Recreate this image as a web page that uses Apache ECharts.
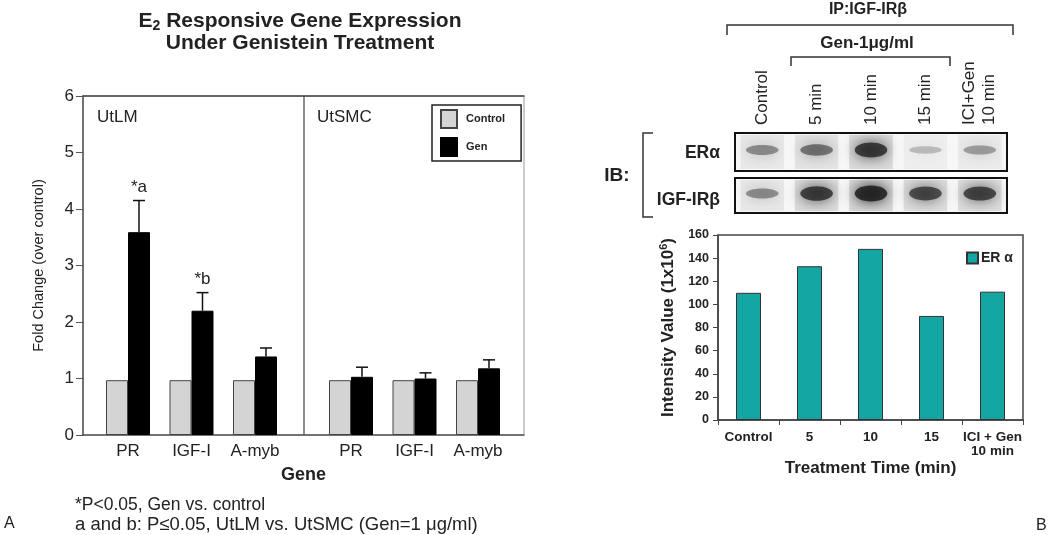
<!DOCTYPE html>
<html><head><meta charset="utf-8">
<script src="https://cdn.jsdelivr.net/npm/echarts@6/dist/echarts.min.js"></script>
<style>html,body{margin:0;padding:0;background:#fff}#c{width:1050px;height:535px}</style>
</head><body><div id="c"></div>
<script>
// ---- Panel A data ----
var genes = ['PR', 'IGF-I', 'A-myb'];
var ctrlLM = [0.97, 0.97, 0.97];
var genLM = [3.59, 2.2, 1.39];
var seLM = [0.56, 0.32, 0.15];
var noteLM = ['*a', '*b', ''];
var ctrlSMC = [0.97, 0.97, 0.97];
var genSMC = [1.03, 1.0, 1.18];
var seSMC = [0.17, 0.1, 0.15];
var noteSMC = ['', '', ''];
var foldMin = 0, foldMax = 6, foldStep = 1;

// ---- Panel B data ----
var timeCats = ['Control', '5', '10', '15', 'ICI + Gen\n10 min'];
var erIntensity = [110, 133, 148, 90, 111];
var intMin = 0, intMax = 160, intStep = 20;
var laneLabels = ['Control', '5 min', '10 min', '15 min', 'ICI+Gen\n10 min'];
var erBand = [0.5, 0.62, 0.9, 0.28, 0.42];
var igfBand = [0.5, 0.88, 1.0, 0.82, 0.85];

var FF = '"Liberation Sans", Arial, Helvetica, sans-serif';
var TX = '#222';

function makeErr(notes) {
  return function (params, api) {
    var i = api.value(0), m = api.value(1), se = api.value(2);
    var base = api.coord([i, m]);
    var top = api.coord([i, m + se]);
    var x = top[0] + 11;
    var ch = [
      {type: 'line', shape: {x1: x, y1: base[1], x2: x, y2: top[1]}, style: {stroke: '#111', lineWidth: 1.5}},
      {type: 'line', shape: {x1: x - 6, y1: top[1], x2: x + 6, y2: top[1]}, style: {stroke: '#111', lineWidth: 1.5}}
    ];
    var n = notes[params.dataIndex];
    if (n) {
      ch.push({type: 'text', x: x, y: top[1] - 5, style: {text: n, fontSize: 17, fontFamily: FF, fill: TX, align: 'center', verticalAlign: 'bottom'}});
    }
    return {type: 'group', children: ch};
  };
}

function band(params, api) {
  var v = api.value(1);
  var c = api.coord([api.value(0), 0.5]);
  var w = api.size([1, 0])[0];
  var cs = params.coordSys;
  return {type: 'group', children: [
    {type: 'rect', shape: {x: c[0] - w * 0.4, y: cs.y + 2, width: w * 0.8, height: cs.height - 4},
      style: {fill: 'rgba(0,0,0,' + (0.12 * v).toFixed(3) + ')', shadowBlur: 8, shadowColor: 'rgba(0,0,0,' + (0.15 * v).toFixed(3) + ')'}},
    {type: 'ellipse', shape: {cx: c[0], cy: c[1] - 2, rx: w * 0.3, ry: 2 + 6 * v},
      style: {fill: 'rgba(20,20,20,' + (0.8 * v).toFixed(3) + ')', shadowBlur: 14, shadowColor: 'rgba(0,0,0,' + v.toFixed(3) + ')'}}
  ]};
}

var hiddenY = function (g) { return {gridIndex: g, type: 'value', min: foldMin, max: foldMax, show: false}; };

var option = {
  backgroundColor: '#fff',
  animation: false,
  textStyle: {fontFamily: FF},
  grid: [
    {left: 83, top: 96, width: 441, height: 339, show: true, borderColor: '#999', borderWidth: 1},
    {left: 96.25, top: 96, width: 190.5, height: 339},
    {left: 319.25, top: 96, width: 190.5, height: 339},
    {left: 718, top: 235, width: 305, height: 185, show: true, borderColor: '#444', borderWidth: 1.5},
    {left: 735, top: 133, width: 272, height: 38, show: true, borderColor: '#111', borderWidth: 2, backgroundColor: '#f7f7f7'},
    {left: 735, top: 178, width: 272, height: 35, show: true, borderColor: '#111', borderWidth: 2, backgroundColor: '#f7f7f7'}
  ],
  xAxis: [
    {gridIndex: 0, type: 'value', min: 0, max: 1, axisLine: {show: true, lineStyle: {color: '#555', width: 1.5}},
      axisTick: {show: false}, axisLabel: {show: false}, splitLine: {show: false},
      name: 'Gene', nameLocation: 'middle', nameGap: 31, nameTextStyle: {fontSize: 18, fontWeight: 'bold', color: TX}},
    {gridIndex: 1, type: 'category', data: genes, axisLine: {show: false}, axisTick: {show: false},
      axisLabel: {interval: 0, fontSize: 17, color: TX, margin: 8}},
    {gridIndex: 2, type: 'category', data: genes, axisLine: {show: false}, axisTick: {show: false},
      axisLabel: {interval: 0, fontSize: 17, color: TX, margin: 8}},
    {gridIndex: 3, type: 'category', data: timeCats, axisLine: {lineStyle: {color: '#444', width: 1.5}},
      axisTick: {show: true, length: 5, interval: 0, lineStyle: {color: '#444'}},
      axisLabel: {interval: 0, fontSize: 13.5, fontWeight: 'bold', color: TX, margin: 10, lineHeight: 14},
      name: 'Treatment Time (min)', nameLocation: 'middle', nameGap: 40, nameTextStyle: {fontSize: 17, fontWeight: 'bold', color: TX}},
    {gridIndex: 4, type: 'category', data: laneLabels, position: 'top', axisLine: {show: false}, axisTick: {show: false},
      axisLabel: {interval: 0, rotate: 90, fontSize: 17, color: TX, margin: 8, lineHeight: 20}},
    {gridIndex: 5, type: 'category', data: laneLabels, show: false},
    {gridIndex: 0, type: 'value', min: 0, max: 1, position: 'top', axisLine: {show: true, lineStyle: {color: '#444', width: 1.5}},
      axisTick: {show: false}, axisLabel: {show: false}, splitLine: {show: false}}
  ],
  yAxis: [
    {gridIndex: 0, type: 'value', min: foldMin, max: foldMax, interval: foldStep,
      axisLine: {show: true, lineStyle: {color: '#555', width: 1.5}},
      axisTick: {show: true, length: 7, lineStyle: {color: '#555'}},
      axisLabel: {fontSize: 17, color: TX, margin: 9}, splitLine: {show: false},
      name: 'Fold Change (over control)', nameLocation: 'middle', nameGap: 37, nameTextStyle: {fontSize: 14.5, color: TX}},
    hiddenY(1), hiddenY(2),
    {gridIndex: 3, type: 'value', min: intMin, max: intMax, interval: intStep,
      axisLine: {show: true, lineStyle: {color: '#444', width: 1.5}},
      axisTick: {show: true, length: 5, lineStyle: {color: '#444'}},
      axisLabel: {fontSize: 12.5, fontWeight: 'bold', color: TX, margin: 9}, splitLine: {show: false},
      name: 'Intensity Value (1x10{sup|6})', nameLocation: 'middle', nameGap: 40,
      nameTextStyle: {fontSize: 17, fontWeight: 'bold', color: TX, rich: {sup: {fontSize: 11, fontWeight: 'bold', color: TX, padding: [0, 0, 9, 0]}}}},
    {gridIndex: 4, type: 'value', min: 0, max: 1, show: false},
    {gridIndex: 5, type: 'value', min: 0, max: 1, show: false}
  ],
  legend: [
    {data: [{name: 'Control', icon: 'rect'}, {name: 'Gen', icon: 'rect'}], orient: 'vertical', left: 432, top: 105, itemWidth: 16, itemHeight: 18, itemGap: 8,
      padding: [4, 16, 4, 8], borderColor: '#222', borderWidth: 1.5, selectedMode: false,
      textStyle: {fontSize: 11, fontWeight: 'bold', color: TX, padding: [0, 0, 0, 4]}},
    {data: [{name: 'ER α', icon: 'rect'}], left: 966, top: 251, itemWidth: 11, itemHeight: 11, padding: 0, selectedMode: false,
      textStyle: {fontSize: 14, fontWeight: 'bold', color: TX, padding: [0, 0, 0, -2]}}
  ],
  series: [
    {name: 'Control', type: 'bar', xAxisIndex: 1, yAxisIndex: 1, data: ctrlLM, barWidth: 22, barGap: '0%',
      itemStyle: {color: '#d4d4d4', borderColor: '#444', borderWidth: 1}},
    {name: 'Gen', type: 'bar', xAxisIndex: 1, yAxisIndex: 1, data: genLM, barWidth: 22, barGap: '0%',
      itemStyle: {color: '#000', borderColor: '#000', borderWidth: 1}},
    {name: 'Control', type: 'bar', xAxisIndex: 2, yAxisIndex: 2, data: ctrlSMC, barWidth: 22, barGap: '0%',
      itemStyle: {color: '#d4d4d4', borderColor: '#444', borderWidth: 1}},
    {name: 'Gen', type: 'bar', xAxisIndex: 2, yAxisIndex: 2, data: genSMC, barWidth: 22, barGap: '0%',
      itemStyle: {color: '#000', borderColor: '#000', borderWidth: 1}},
    {name: 'errLM', type: 'custom', xAxisIndex: 1, yAxisIndex: 1, z: 5, renderItem: makeErr(noteLM),
      data: genes.map(function (g, i) { return [i, genLM[i], seLM[i]]; })},
    {name: 'errSMC', type: 'custom', xAxisIndex: 2, yAxisIndex: 2, z: 5, renderItem: makeErr(noteSMC),
      data: genes.map(function (g, i) { return [i, genSMC[i], seSMC[i]]; })},
    {name: 'ER α', type: 'bar', xAxisIndex: 3, yAxisIndex: 3, data: erIntensity, barWidth: 25,
      itemStyle: {color: '#13a6a3', borderColor: '#333', borderWidth: 1}},
    {name: 'bandER', type: 'custom', xAxisIndex: 4, yAxisIndex: 4, clip: true, renderItem: band,
      data: erBand.map(function (v, i) { return [i, v]; })},
    {name: 'bandIGF', type: 'custom', xAxisIndex: 5, yAxisIndex: 5, clip: true, renderItem: band,
      data: igfBand.map(function (v, i) { return [i, v]; })}
  ],
  graphic: [
    {type: 'text', x: 300, y: 21, style: {text: 'E{sub|2} Responsive Gene Expression', fontSize: 21, fontWeight: 'bold', fontFamily: FF, fill: TX, align: 'center', verticalAlign: 'middle',
      rich: {sub: {fontSize: 14, fontWeight: 'bold', fontFamily: FF, fill: TX, padding: [10, 0, 0, 0]}}}},
    {type: 'text', x: 300, y: 43, style: {text: 'Under Genistein Treatment', fontSize: 21, fontWeight: 'bold', fontFamily: FF, fill: TX, align: 'center', verticalAlign: 'middle'}},
    {type: 'line', shape: {x1: 304, y1: 96, x2: 304, y2: 435}, style: {stroke: '#444', lineWidth: 1.2}},
    {type: 'text', x: 97, y: 117, style: {text: 'UtLM', fontSize: 17, fontFamily: FF, fill: TX, verticalAlign: 'middle'}},
    {type: 'text', x: 317, y: 117, style: {text: 'UtSMC', fontSize: 17, fontFamily: FF, fill: TX, verticalAlign: 'middle'}},
    {type: 'text', x: 75, y: 505, style: {text: '*P<0.05, Gen vs. control', fontSize: 17.5, fontFamily: FF, fill: TX, verticalAlign: 'middle'}},
    {type: 'text', x: 75, y: 525, style: {text: 'a and b: P\u22640.05, UtLM vs. UtSMC (Gen=1 \u03bcg/ml)', fontSize: 18.5, fontFamily: FF, fill: TX, verticalAlign: 'middle'}},
    {type: 'text', x: 4, y: 524, style: {text: 'A', fontSize: 16, fontFamily: FF, fill: TX, verticalAlign: 'middle'}},
    {type: 'text', x: 1036, y: 526, style: {text: 'B', fontSize: 16, fontFamily: FF, fill: TX, verticalAlign: 'middle'}},
    {type: 'text', x: 868, y: 10, style: {text: 'IP:IGF-IR\u03b2', fontSize: 16, fontWeight: 'bold', fontFamily: FF, fill: TX, align: 'center', verticalAlign: 'middle'}},
    {type: 'polyline', shape: {points: [[727, 35], [727, 25], [1013, 25], [1013, 35]]}, style: {stroke: '#333', lineWidth: 1.5, fill: null}},
    {type: 'text', x: 867, y: 43, style: {text: 'Gen-1\u03bcg/ml', fontSize: 17, fontWeight: 'bold', fontFamily: FF, fill: TX, align: 'center', verticalAlign: 'middle'}},
    {type: 'polyline', shape: {points: [[791, 66], [791, 57], [950, 57], [950, 66]]}, style: {stroke: '#333', lineWidth: 1.5, fill: null}},
    {type: 'text', x: 617, y: 176, style: {text: 'IB:', fontSize: 19, fontWeight: 'bold', fontFamily: FF, fill: TX, align: 'center', verticalAlign: 'middle'}},
    {type: 'polyline', shape: {points: [[653, 133], [643, 133], [643, 217], [653, 217]]}, style: {stroke: '#333', lineWidth: 1.5, fill: null}},
    {type: 'text', x: 720, y: 153, style: {text: 'ER\u03b1', fontSize: 17.5, fontWeight: 'bold', fontFamily: FF, fill: TX, align: 'right', verticalAlign: 'middle'}},
    {type: 'text', x: 720, y: 200, style: {text: 'IGF-IR\u03b2', fontSize: 17.5, fontWeight: 'bold', fontFamily: FF, fill: TX, align: 'right', verticalAlign: 'middle'}}
  ]
};
var chart = echarts.init(document.getElementById('c'), null, {renderer: 'canvas'});
chart.setOption(option);
</script>
</body></html>
